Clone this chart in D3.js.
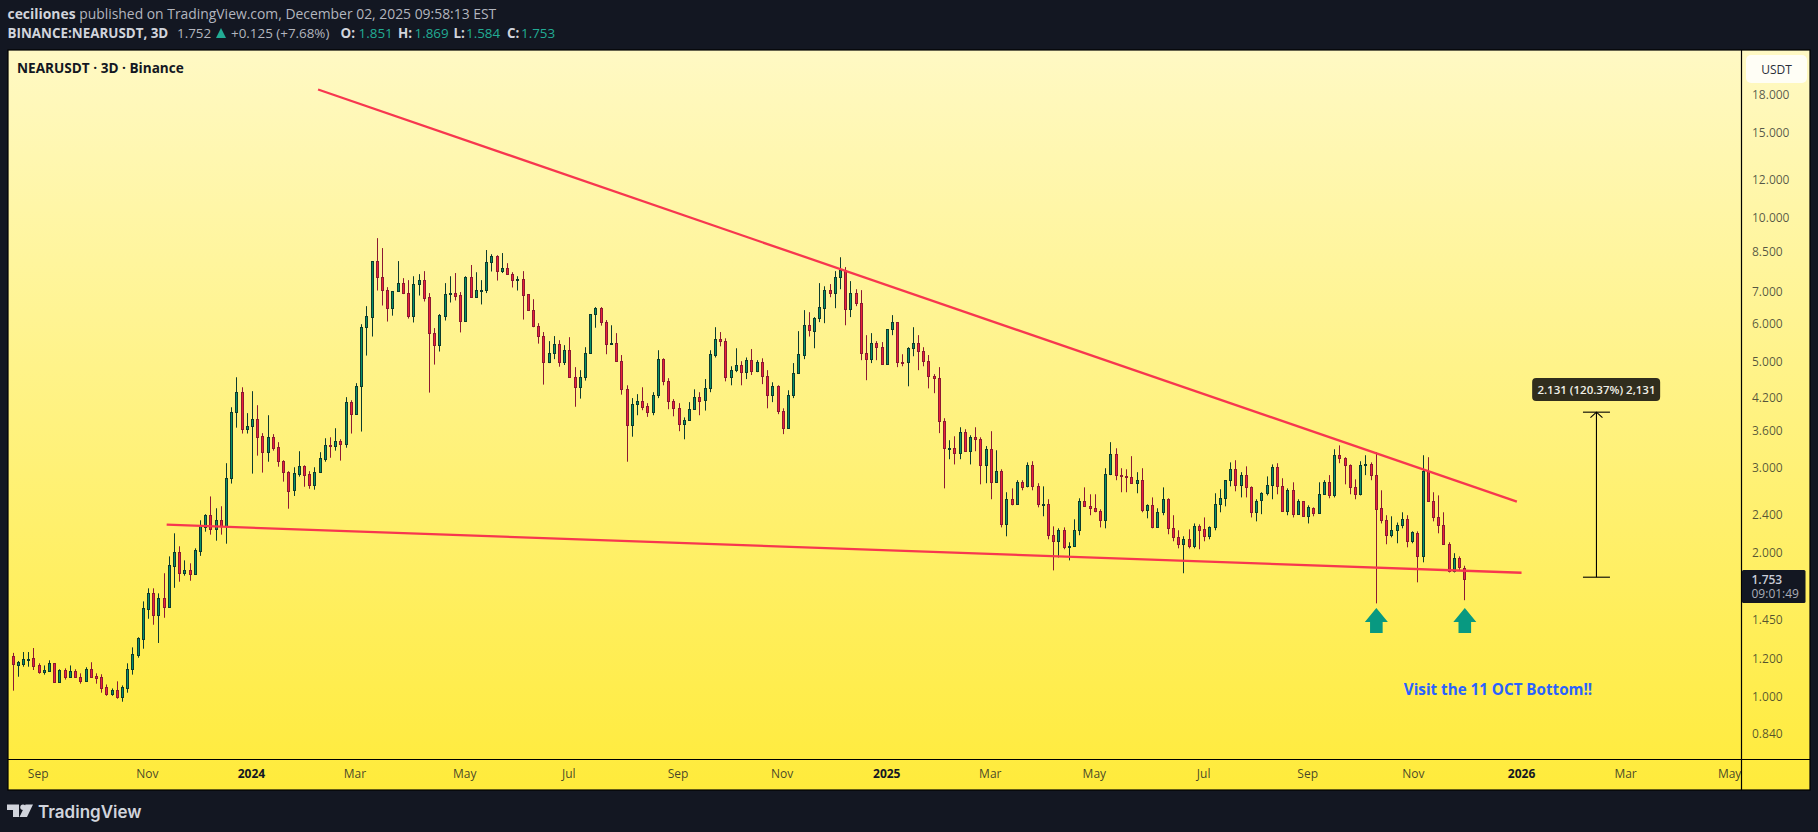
<!DOCTYPE html>
<html>
<head>
<meta charset="utf-8">
<script src="https://cdnjs.cloudflare.com/ajax/libs/d3/7.8.5/d3.min.js"></script>
<style>
html, body { margin: 0; padding: 0; background: #131722; overflow: hidden; }
svg { display: block; }
text { font-family: "Open Sans", sans-serif; }
</style>
</head>
<body>
<svg id="chart" width="1818" height="832"></svg>
<script>
// NEARUSDT 3D candles
var opens = [
1.21,1.163,1.168,1.189,1.199,1.158,1.124,1.129,1.17,1.071,
1.131,1.097,1.126,1.094,1.076,1.137,1.10,1.094,1.042,1.011,
1.028,.997,1.04,1.14,1.22,1.317,1.52,1.637,1.473,1.598,
1.535,1.87,1.994,1.808,1.828,1.799,2.009,2.253,2.382,2.233,
2.325,2.264,2.845,3.907,4.301,3.61,3.652,3.776,3.48,3.224,
3.463,3.30,3.087,2.929,2.685,2.909,3.012,2.90,2.749,2.929,
3.125,3.339,3.327,3.399,3.36,4.099,3.87,4.424,5.875,6.18,
8.07,7.474,7.02,6.437,6.987,7.26,6.921,6.21,7.227,7.365,
6.785,5.71,5.40,6.21,6.875,6.921,6.853,6.067,7.474,6.785,
7.007,7.02,8.03,8.26,7.677,7.80,7.58,7.365,7.40,6.888,
6.377,5.90,5.63,4.967,5.188,5.41,4.967,5.26,4.62,4.403,
4.62,5.188,6.257,6.437,6.02,5.41,5.44,4.99,4.36,3.67,
4.06,4.118,4.02,3.907,4.24,5.04,4.53,4.118,3.98,3.70,
3.76,3.963,4.20,4.138,4.38,5.15,5.55,5.495,4.62,4.78,
4.90,4.735,5.015,4.76,4.967,4.64,4.24,4.424,3.925,3.617,
4.24,4.71,5.15,5.93,5.765,6.137,6.437,7.02,6.921,7.474,
7.73,6.41,6.921,6.59,5.188,5.04,5.44,5.337,4.92,5.82,
6.02,4.967,4.967,5.31,5.44,5.235,4.99,4.64,4.60,3.74,
3.285,3.285,3.208,3.55,3.248,3.463,3.431,3.027,3.27,2.80,
2.943,2.28,2.572,2.51,2.79,2.736,3.027,2.736,2.505,2.51,
2.164,2.102,2.216,2.042,2.052,2.216,2.547,2.486,2.463,2.428,
2.325,2.90,3.19,2.888,2.875,2.86,2.778,2.818,2.44,2.498,
2.247,2.416,2.572,2.237,2.142,2.072,2.122,2.052,2.258,2.226,
2.153,2.247,2.51,2.584,2.818,2.97,2.749,2.888,2.723,2.416,
2.56,2.647,2.749,2.999,2.736,2.428,2.685,2.394,2.547,2.37,
2.463,2.405,2.634,2.79,2.62,3.177,3.131,3.027,2.723,2.634,
3.027,3.04,2.888,2.463,2.325,2.164,2.216,2.27,2.336,2.102,
2.184,1.955,2.943,2.547,2.357,2.27,2.072,1.82,1.937,1.851];
var highs = [
1.23,1.183,1.235,1.235,1.259,1.17,1.158,1.187,1.17,1.137,
1.142,1.158,1.137,1.115,1.148,1.176,1.115,1.11,1.057,1.037,
1.073,1.052,1.17,1.263,1.326,1.575,1.677,1.677,1.637,1.803,
1.955,2.184,2.052,1.918,1.891,2.032,2.325,2.394,2.607,2.463,
2.487,3.058,4.0,4.62,4.403,3.889,4.321,4.04,3.533,3.85,
3.516,3.383,3.102,2.943,2.999,3.239,3.027,2.943,2.999,3.224,
3.447,3.463,3.617,3.431,4.199,4.138,4.491,5.96,6.5,8.07,
9.01,8.59,7.12,6.987,8.07,7.435,7.365,7.504,7.58,7.69,
6.921,5.85,6.257,7.26,7.504,7.62,6.954,7.504,7.92,7.65,
7.365,8.51,8.34,8.30,8.387,7.99,7.65,7.504,7.69,6.888,
6.72,5.99,5.74,5.495,5.63,5.52,5.39,5.60,4.85,4.78,
5.337,6.257,6.47,6.47,6.08,5.93,5.71,5.14,4.445,4.18,
4.26,4.403,4.08,4.30,5.26,5.06,4.60,4.16,4.08,3.81,
4.10,4.36,4.30,4.58,5.26,5.875,5.74,5.57,4.87,5.31,
4.99,5.08,5.29,5.015,5.06,4.78,4.51,4.445,3.98,4.34,
4.945,5.765,6.377,6.315,6.167,7.26,7.15,7.227,7.69,8.22,
7.84,7.33,7.05,7.02,5.655,5.71,5.495,5.47,5.82,6.226,
6.02,5.16,5.337,5.875,5.655,5.337,5.14,4.69,4.85,3.795,
3.415,3.48,3.634,3.60,3.497,3.634,3.463,3.32,3.566,3.254,
2.97,2.66,2.71,2.818,2.818,3.07,3.087,2.778,2.736,2.572,
2.258,2.237,2.247,2.092,2.336,2.584,2.723,2.634,2.634,2.451,
2.985,3.383,3.285,2.985,2.97,3.163,2.929,2.985,2.51,2.595,
2.463,2.723,2.584,2.382,2.216,2.153,2.226,2.29,2.28,2.357,
2.258,2.647,2.698,2.818,3.07,3.102,2.929,3.012,2.736,2.572,
2.66,2.87,3.04,3.058,2.845,2.71,2.79,2.572,2.547,2.498,
2.474,2.79,2.818,2.888,3.27,3.331,3.147,3.04,2.83,3.087,
3.177,3.07,3.224,2.685,2.382,2.37,2.30,2.416,2.382,2.205,
2.205,3.177,3.147,2.66,2.62,2.416,2.092,1.985,1.955,1.869];
var lows = [
1.026,1.097,1.151,1.151,1.133,1.113,1.108,1.127,1.071,1.071,
1.082,1.092,1.092,1.061,1.076,1.097,1.061,1.016,1.001,1.001,
.987,.973,1.016,1.108,1.202,1.255,1.449,1.408,1.29,1.456,
1.535,1.681,1.731,1.782,1.739,1.791,1.96,2.201,2.17,2.108,
2.17,2.078,2.773,3.627,3.526,3.526,2.909,3.171,2.923,3.08,
3.248,3.007,2.799,2.458,2.613,2.867,2.731,2.705,2.693,2.929,
3.08,3.139,3.248,3.096,3.294,3.526,3.87,3.56,5.127,5.618,
7.007,6.52,6.037,6.21,6.987,6.888,6.124,6.01,6.84,6.647,
4.292,4.91,5.228,6.067,6.615,6.68,5.73,6.037,6.785,6.785,
6.553,6.921,7.677,7.35,7.62,7.55,7.11,7.007,6.095,6.377,
5.875,5.43,4.46,4.945,5.04,4.86,4.90,4.62,4.01,4.17,
4.547,5.188,5.86,5.92,5.16,5.41,4.99,4.25,3.08,3.473,
3.85,3.944,3.82,3.85,4.18,4.445,3.963,3.83,3.566,3.43,
3.76,3.963,3.85,3.937,4.30,5.08,5.36,4.53,4.445,4.735,
4.445,4.58,4.67,4.735,4.47,3.98,4.10,3.87,3.516,3.617,
4.18,4.71,5.04,5.618,5.31,6.02,5.99,6.785,6.437,7.05,
5.93,6.167,6.50,5.015,4.555,4.945,5.015,4.90,4.90,5.655,
4.85,4.87,4.424,5.11,4.78,4.87,4.38,4.28,3.533,2.71,
3.117,3.04,3.117,3.239,3.04,3.239,2.763,2.778,2.572,2.79,
2.247,2.153,2.498,2.51,2.685,2.723,2.685,2.474,2.37,2.122,
1.828,1.945,2.023,1.918,2.052,2.164,2.486,2.382,2.416,2.247,
2.237,2.888,2.818,2.66,2.66,2.778,2.647,2.416,2.347,2.237,
2.247,2.382,2.174,2.102,2.032,1.803,2.032,2.032,2.023,2.102,
2.122,2.216,2.416,2.486,2.736,2.672,2.595,2.595,2.357,2.313,
2.394,2.62,2.572,2.634,2.428,2.382,2.357,2.388,2.37,2.29,
2.37,2.405,2.634,2.584,2.595,3.058,2.763,2.634,2.572,2.62,
2.888,2.818,1.56,2.29,2.072,2.142,2.082,2.237,2.042,2.082,
1.726,1.90,2.547,2.313,2.184,2.072,1.81,1.81,1.828,1.584];
var closes = [
1.168,1.178,1.193,1.193,1.156,1.124,1.131,1.17,1.071,1.131,
1.097,1.126,1.097,1.076,1.137,1.097,1.092,1.04,1.011,1.028,
.997,1.042,1.137,1.222,1.319,1.523,1.637,1.473,1.598,1.535,
1.873,1.994,1.808,1.828,1.799,2.013,2.258,2.382,2.233,2.325,
2.264,2.845,3.907,4.301,3.61,3.652,3.776,3.473,3.224,3.463,
3.294,3.087,2.929,2.68,2.915,3.012,2.895,2.749,2.929,3.131,
3.331,3.327,3.399,3.36,4.099,3.87,4.424,5.875,6.195,8.07,
7.474,7.02,6.437,6.987,7.26,6.908,6.21,7.227,7.365,6.772,
5.70,5.40,6.226,6.888,6.921,6.84,6.067,7.474,6.785,7.02,
7.03,8.03,8.26,7.69,7.80,7.58,7.365,7.40,6.853,6.377,
5.90,5.63,4.967,5.188,5.41,4.967,5.26,4.62,4.403,4.62,
5.188,6.257,6.437,6.02,5.41,5.44,4.99,4.36,3.67,4.06,
4.118,4.01,3.907,4.24,5.04,4.53,4.118,3.98,3.70,3.76,
3.963,4.20,4.13,4.38,5.16,5.55,5.495,4.62,4.78,4.90,
4.735,5.015,4.76,4.967,4.64,4.24,4.424,3.92,3.617,4.24,
4.71,5.16,5.93,5.79,6.137,6.47,7.02,6.921,7.474,7.73,
6.41,6.921,6.59,5.188,5.04,5.44,5.337,4.92,5.82,6.02,
4.967,4.95,5.31,5.44,5.235,4.99,4.64,4.60,3.74,3.285,
3.29,3.208,3.55,3.248,3.463,3.431,3.027,3.27,2.80,2.943,
2.28,2.572,2.51,2.79,2.731,3.027,2.736,2.51,2.515,2.164,
2.102,2.216,2.042,2.052,2.216,2.547,2.486,2.463,2.428,2.325,
2.90,3.19,2.888,2.875,2.867,2.778,2.818,2.44,2.498,2.247,
2.416,2.572,2.237,2.142,2.072,2.122,2.052,2.258,2.216,2.153,
2.247,2.51,2.584,2.818,2.97,2.749,2.888,2.723,2.416,2.547,
2.647,2.749,2.999,2.736,2.428,2.685,2.394,2.547,2.37,2.474,
2.405,2.634,2.79,2.62,3.177,3.131,3.027,2.723,2.634,3.027,
3.04,2.888,2.451,2.325,2.164,2.216,2.27,2.336,2.102,2.195,
1.955,2.943,2.547,2.357,2.27,2.072,1.82,1.937,1.854,1.753];

// Axis ticks
var priceTicks = [18, 15, 12, 10, 8.5, 7, 6, 5, 4.2, 3.6, 3, 2.4, 2, 1.45, 1.2, 1, 0.84];
var timeTickBars = [4.8, 25.8, 45.8, 65.7, 86.8, 106.8, 127.8, 147.8, 167.9, 187.8, 207.8, 228.8, 248.8, 269.1, 289.9, 309.9, 329.9];
var timeTickLabels = ['Sep', 'Nov', '2024', 'Mar', 'May', 'Jul', 'Sep', 'Nov', '2025', 'Mar', 'May', 'Jul', 'Sep', 'Nov', '2026', 'Mar', 'May'];

// Drawings on the chart: [bar, price]
var upperTrend = [[58.7, 18.39], [289.1, 2.542]];
var lowerTrend = [[29.6, 2.276], [290, 1.807]];
var arrowBars = [262, 279];
var arrowPrice = 1.526;
var measureBar = 304.4;
var measurePrices = [1.769, 3.907];

var lastPrice = 1.753;

var bg = '#131722';
var upFill = '#08906a', upEdge = '#0c3b2e';
var downFill = '#ea2239', downEdge = '#8c1833';
var trendColor = '#f7374f';

var svg = d3.select('#chart');

// Layout of the panel
var panel = {l: 8, t: 50, r: 1810, b: 790, axisX: 1741.5, axisY: 759.5};

var defs = svg.append('defs');
var grad = defs.append('linearGradient').attr('id', 'paneBg')
    .attr('x1', 0).attr('y1', 0).attr('x2', 0).attr('y2', 1);
grad.append('stop').attr('offset', '0%').attr('stop-color', '#fff9c4');
grad.append('stop').attr('offset', '100%').attr('stop-color', '#ffeb3b');

svg.append('rect')
    .attr('x', panel.l).attr('y', panel.t)
    .attr('width', panel.r - panel.l).attr('height', panel.b - panel.t)
    .attr('fill', 'url(#paneBg)');

// Scales: bar index across, log price up
var xScale = d3.scaleLinear().domain([0, 279]).range([12.67, 1464.3]);
var yScale = d3.scaleLog().domain([1, 18]).range([696, 94]);

// Panel separators
var sepG = svg.append('g').attr('stroke', '#000').attr('stroke-width', 1.2);
sepG.append('line').attr('x1', panel.axisX).attr('x2', panel.axisX).attr('y1', panel.t).attr('y2', panel.b);
sepG.append('line').attr('x1', panel.l).attr('x2', panel.r).attr('y1', panel.axisY).attr('y2', panel.axisY);
sepG.append('rect').attr('x', panel.l).attr('y', panel.t)
    .attr('width', panel.r - panel.l).attr('height', panel.b - panel.t).attr('fill', 'none');

// Candles
var candles = opens.map(function(o, i) {
    return {i: i, o: o, h: highs[i], l: lows[i], c: closes[i]};
});
var candleG = svg.append('g').selectAll('g').data(candles).enter().append('g');
candleG.append('rect')
    .attr('x', function(d) { return Math.round(xScale(d.i)); })
    .attr('width', 1)
    .attr('y', function(d) { return yScale(d.h); })
    .attr('height', function(d) { return yScale(d.l) - yScale(d.h); })
    .attr('fill', function(d) { return d.c >= d.o ? upEdge : downEdge; });
candleG.append('rect')
    .attr('x', function(d) { return Math.round(xScale(d.i)) - 0.5; })
    .attr('width', 2)
    .attr('y', function(d) { return Math.round(yScale(Math.max(d.o, d.c))) + 0.5; })
    .attr('height', function(d) {
        return Math.max(1, Math.round(yScale(Math.min(d.o, d.c))) - Math.round(yScale(Math.max(d.o, d.c))));
    })
    .attr('fill', function(d) { return d.c >= d.o ? upFill : downFill; })
    .attr('stroke', function(d) { return d.c >= d.o ? upEdge : downEdge; })
    .attr('stroke-width', 1);

// Trend lines
var trendLine = d3.line()
    .x(function(d) { return xScale(d[0]); })
    .y(function(d) { return yScale(d[1]); });
svg.selectAll('.trend').data([upperTrend, lowerTrend]).enter().append('path')
    .attr('class', 'trend')
    .attr('d', trendLine)
    .attr('fill', 'none')
    .attr('stroke', trendColor)
    .attr('stroke-width', 2.3);

// Up arrows under the two wicks
var arrowShape = [[0, 0], [11.5, 14], [6.3, 14], [6.3, 25], [-6.3, 25], [-6.3, 14], [-11.5, 14]];
svg.selectAll('.arrow').data(arrowBars).enter().append('polygon')
    .attr('class', 'arrow')
    .attr('fill', '#089981')
    .attr('points', function(b) {
        var ax = xScale(b) + 0.5, ay = yScale(arrowPrice);
        return arrowShape.map(function(p) { return [ax + p[0], ay + p[1]].join(','); }).join(' ');
    });

// Price range tool
var mx = xScale(measureBar);
var mTop = yScale(measurePrices[1]), mBot = yScale(measurePrices[0]);
var measureG = svg.append('g').attr('stroke', '#000').attr('stroke-width', 1.1).attr('fill', 'none');
measureG.append('line').attr('x1', mx).attr('x2', mx).attr('y1', mTop).attr('y2', mBot);
measureG.append('line').attr('x1', mx - 13.5).attr('x2', mx + 13.5).attr('y1', mTop).attr('y2', mTop);
measureG.append('line').attr('x1', mx - 13.5).attr('x2', mx + 13.5).attr('y1', mBot).attr('y2', mBot);
measureG.append('path').attr('d', 'M' + (mx - 6) + ',' + (mTop + 5.5) + 'L' + mx + ',' + mTop + 'L' + (mx + 6) + ',' + (mTop + 5.5));

svg.append('rect')
    .attr('x', mx - 64.3).attr('y', 378).attr('width', 128).attr('height', 23).attr('rx', 4)
    .attr('fill', '#302d1d');
svg.append('text')
    .attr('x', mx).attr('y', 394).attr('text-anchor', 'middle')
    .attr('fill', '#f0f0e8').attr('font-size', 11.5).attr('font-weight', 600)
    .text('2.131 (120.37%) 2,131');

// Note
svg.append('text')
    .attr('x', 1498).attr('y', 695).attr('text-anchor', 'middle')
    .attr('fill', '#2962ff').attr('font-size', 15.2).attr('font-weight', 700)
    .text('Visit the 11 OCT Bottom!!');

// Price axis
var yAxis = d3.axisRight(yScale)
    .tickValues(priceTicks)
    .tickFormat(d3.format('.3f'))
    .tickSize(0)
    .tickPadding(10.5);
var yAxisG = svg.append('g')
    .attr('transform', 'translate(' + panel.axisX + ',0)')
    .call(yAxis);
yAxisG.select('.domain').remove();
yAxisG.selectAll('text')
    .style('font-family', '"Open Sans", sans-serif')
    .attr('dy', '0.4em')
    .attr('font-size', 12)
    .attr('fill', '#131722')
    .attr('fill-opacity', 0.72);

// Time axis
var xAxis = d3.axisBottom(xScale)
    .tickValues(timeTickBars)
    .tickFormat(function(d, i) { return timeTickLabels[i]; })
    .tickSize(0)
    .tickPadding(9.5);
var xAxisG = svg.append('g')
    .attr('transform', 'translate(0,' + panel.axisY + ')')
    .call(xAxis);
xAxisG.select('.domain').remove();
xAxisG.selectAll('text')
    .style('font-family', '"Open Sans", sans-serif')
    .attr('font-size', 12)
    .attr('fill', '#131722')
    .attr('fill-opacity', function(d, i) { return /^\d/.test(timeTickLabels[i]) ? 1 : 0.8; })
    .attr('font-weight', function(d, i) { return /^\d/.test(timeTickLabels[i]) ? 700 : 400; });

// Currency button
svg.append('rect')
    .attr('x', 1746).attr('y', 55).attr('width', 61).attr('height', 28).attr('rx', 5)
    .attr('fill', '#fff').attr('fill-opacity', 0.85);
svg.append('text')
    .attr('x', 1776.5).attr('y', 73.5).attr('text-anchor', 'middle')
    .attr('fill', '#2a2e39').attr('font-size', 12).text('USDT');

// Last price tag
svg.append('rect')
    .attr('x', 1742).attr('y', yScale(lastPrice) - 9).attr('width', 63.5).attr('height', 33).attr('rx', 1.5)
    .attr('fill', bg);
svg.append('text')
    .attr('x', 1751.5).attr('y', yScale(lastPrice) + 5)
    .attr('fill', '#c9ccd6').attr('font-size', 12).attr('font-weight', 600).text('1.753');
svg.append('text')
    .attr('x', 1751.5).attr('y', yScale(lastPrice) + 19)
    .attr('fill', '#a9adb9').attr('font-size', 12).text('09:01:49');

// Symbol title in the pane
svg.append('text')
    .attr('x', 17).attr('y', 72.5)
    .attr('fill', '#131722').attr('font-size', 13.6).attr('font-weight', 700)
    .text('NEARUSDT · 3D · Binance');

// Header lines
var headerOne = svg.append('text').attr('x', 7.5).attr('y', 19).attr('font-size', 13.9).attr('fill', '#b2b5be');
headerOne.append('tspan').attr('font-weight', 700).attr('fill', '#d1d4dc').text('ceciliones');
headerOne.append('tspan').text(' published on TradingView.com, December 02, 2025 09:58:13 EST');

var headerTwo = [
    {x: 7.5, t: 'BINANCE:NEARUSDT, 3D', w: 700, c: '#d1d4dc'},
    {x: 177, t: '1.752', w: 400, c: '#b2b5be'},
    {x: 231, t: '+0.125 (+7.68%)', w: 400, c: '#b2b5be'},
    {x: 340.6, t: 'O:', w: 700, c: '#d1d4dc'},
    {x: 358.6, t: '1.851', w: 400, c: '#22ab94'},
    {x: 398, t: 'H:', w: 700, c: '#d1d4dc'},
    {x: 414.5, t: '1.869', w: 400, c: '#22ab94'},
    {x: 453.5, t: 'L:', w: 700, c: '#d1d4dc'},
    {x: 466, t: '1.584', w: 400, c: '#22ab94'},
    {x: 507, t: 'C:', w: 700, c: '#d1d4dc'},
    {x: 521, t: '1.753', w: 400, c: '#22ab94'}
];
svg.append('g').selectAll('text').data(headerTwo).enter().append('text')
    .attr('x', function(d) { return d.x; })
    .attr('y', 38)
    .attr('font-size', 13.4)
    .attr('font-weight', function(d) { return d.w; })
    .attr('fill', function(d) { return d.c; })
    .text(function(d) { return d.t; });
svg.append('polygon').attr('points', '216,38 226,38 221,28').attr('fill', '#22ab94');

// TradingView mark
svg.append('path')
    .attr('d', 'M7,804.5H19V817H13V810H7Z M25.5,804.5H33L27,817H19.5Z')
    .attr('fill', '#d1d4dc');
svg.append('circle').attr('cx', 23).attr('cy', 807.3).attr('r', 2.7).attr('fill', '#d1d4dc');
svg.append('text')
    .attr('x', 38).attr('y', 818)
    .style('font-family', 'Inter, sans-serif')
    .attr('font-size', 17).attr('font-weight', 600).attr('fill', '#d1d4dc')
    .text('TradingView');
</script>
</body>
</html>
